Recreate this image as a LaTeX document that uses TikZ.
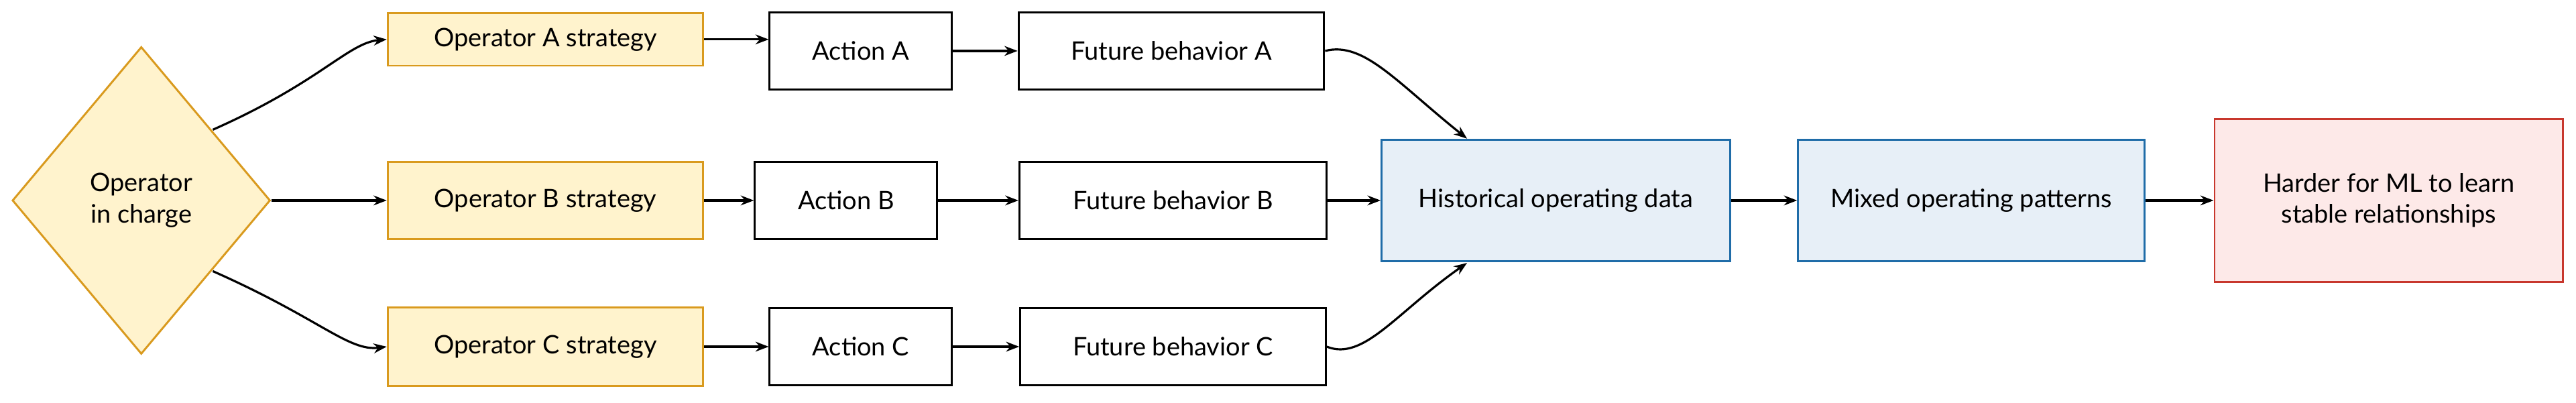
\documentclass[tikz,border=0pt]{standalone}
\usepackage{fontspec}
\setmainfont{Lato}
\usetikzlibrary{shapes.geometric,arrows.meta}
\definecolor{yfill}{HTML}{FFF3CD}
\definecolor{ystroke}{HTML}{D99A1E}
\definecolor{bfill}{HTML}{E7EFF7}
\definecolor{bstroke}{HTML}{1F6CA8}
\definecolor{rfill}{HTML}{FDE9E8}
\definecolor{rstroke}{HTML}{C8372D}
\begin{document}
\begin{tikzpicture}[x=1pt,y=-1pt,
  every node/.style={font=\fontsize{15.5}{19}\selectfont, align=center, line width=1.2pt, inner sep=2pt},
  box/.style={draw=black, fill=white, minimum height=47pt},
  ybox/.style={draw=ystroke, fill=yfill, minimum height=32pt, minimum width=192pt},
  bbox/.style={draw=bstroke, fill=bfill, minimum height=74pt, minimum width=212pt},
  arr/.style={-{Stealth[length=8pt,width=6pt]}, line width=1.3pt}]
\useasboundingbox (0,0) rectangle (1568,245);
\node[diamond, draw=ystroke, fill=yfill, minimum width=157pt, minimum height=187pt, inner sep=0pt] (op) at (86,122) {Operator\\in charge};
\node[ybox] (sa) at (332,24) {Operator A strategy};
\node[ybox, minimum height=47pt] (sb) at (332,122) {Operator B strategy};
\node[ybox, minimum height=48pt] (sc) at (332,211) {Operator C strategy};
\node[box, minimum width=111pt] (aa) at (524,31) {Action A};
\node[box, minimum width=111pt] (ab) at (515,122) {Action B};
\node[box, minimum width=111pt] (ac) at (524,211) {Action C};
\node[box, minimum width=186pt] (fa) at (713,31) {Future behavior A};
\node[box, minimum width=187pt] (fb) at (714,122) {Future behavior B};
\node[box, minimum width=186pt] (fc) at (714,211) {Future behavior C};
\node[bbox] (hist) at (947,122) {Historical operating data};
\node[bbox, minimum width=211pt] (mix) at (1200,122) {Mixed operating patterns};
\node[draw=rstroke, fill=rfill, minimum width=212pt, minimum height=99pt] (hard) at (1454,122) {Harder for ML to learn\\stable relationships};
\draw[arr] (op.north east) ++(4,4) .. controls (195,50) and (212,26) .. (sa.west);
\draw[arr] (op.east) -- (sb.west);
\draw[arr] (op.south east) ++(4,-4) .. controls (195,194) and (212,214) .. (sc.west);
\draw[arr] (sa.east) -- (aa.west |- sa.east);
\draw[arr] (sb.east) -- (ab.west);
\draw[arr] (sc.east) -- (ac.west);
\draw[arr] (aa.east) -- (fa.west);
\draw[arr] (ab.east) -- (fb.west);
\draw[arr] (ac.east) -- (fc.west);
\draw[arr] (fa.east) .. controls (830,25) and (850,50) .. (hist.north -| 893,0);
\draw[arr] (fb.east) -- (hist.west);
\draw[arr] (fc.east) .. controls (830,220) and (850,190) .. (893,160);
\draw[arr] (hist.east) -- (mix.west);
\draw[arr] (mix.east) -- (hard.west);
\end{tikzpicture}
\end{document}
